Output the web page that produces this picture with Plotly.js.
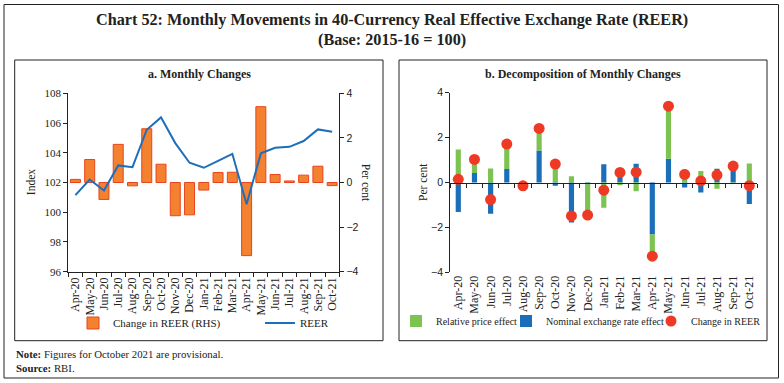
<!DOCTYPE html>
<html>
<head>
<meta charset="utf-8">
<script src="https://cdn.plot.ly/plotly-3.0.1.min.js"></script>
<style>html,body{margin:0;padding:0;background:#fff;}#chart{width:784px;height:383px;}</style>
</head>
<body>
<div id="chart"></div>
<script>
// ---- Data ----
const months = ['Apr-20','May-20','Jun-20','Jul-20','Aug-20','Sep-20','Oct-20','Nov-20','Dec-20','Jan-21','Feb-21','Mar-21','Apr-21','May-21','Jun-21','Jul-21','Aug-21','Sep-21','Oct-21'];
const reerIndex = [101.15,102.2,101.46,103.15,103.03,105.55,106.38,104.65,103.33,102.99,103.46,103.93,100.54,103.96,104.34,104.40,104.79,105.57,105.42];
const reerChange = [0.14,1.03,-0.76,1.71,-0.15,2.41,0.82,-1.49,-1.45,-0.34,0.45,0.46,-3.28,3.40,0.36,0.07,0.33,0.73,-0.14];
const relativePriceEffect = [1.47,0.61,0.62,1.11,-0.05,0.99,0.97,0.28,-1.40,-1.13,-0.12,-0.39,-0.96,2.34,0.58,0.51,-0.28,-0.06,0.85];
const nominalRateEffect = [-1.31,0.42,-1.39,0.60,-0.10,1.42,-0.15,-1.78,-0.05,0.81,0.57,0.84,-2.32,1.06,-0.22,-0.45,0.61,0.79,-0.96];
const leftTicks = [96,98,100,102,104,106,108];
const pctTicks = [-4,-2,0,2,4];

// ---- Layout helpers ----
const W = 784, H = 383;
const px = x => x / W;
const py = y => 1 - y / H;
const SERIF = 'Liberation Serif, Times New Roman, serif';
const SANS = 'Liberation Sans, Arial, sans-serif';
const INK = '#222';

const catRange = [-0.5, months.length - 0.5];

const traces = [
  {type:'bar', x:months, y:reerChange, xaxis:'x', yaxis:'y', name:'Change in REER (RHS)', width:0.7,
   marker:{color:'#F4812F', line:{color:'#E8451F', width:1}}, legend:'legend'},
  {type:'scatter', mode:'lines', x:months, y:reerIndex, xaxis:'x', yaxis:'y2', name:'REER',
   line:{color:'#1F6EB9', width:2}, legend:'legend5'},
  {type:'bar', x:months, y:nominalRateEffect, xaxis:'x2', yaxis:'y3', name:'Nominal exchange rate effect', width:0.32,
   marker:{color:'#1A6FB8'}, legend:'legend3'},
  {type:'bar', x:months, y:relativePriceEffect, xaxis:'x2', yaxis:'y3', name:'Relative price effect', width:0.32,
   marker:{color:'#7DC352'}, legend:'legend2'},
  {type:'scatter', mode:'markers', x:months, y:reerChange, xaxis:'x2', yaxis:'y3', name:'Change in REER',
   marker:{color:'#EE3A24', size:11}, legend:'legend4'},
  {type:'scatter', mode:'markers', x:months, y:months.map(()=>null), xaxis:'x3', yaxis:'y4',
   showlegend:false, hoverinfo:'skip'}
];

const legendBase = {orientation:'h', xanchor:'left', yanchor:'middle', bgcolor:'rgba(0,0,0,0)',
  font:{family:SERIF, size:11, color:INK}, itemwidth:30, borderwidth:0};
const smallLegendFont = {family:SERIF, size:10, color:INK};

const layout = {
  width:W, height:H, margin:{l:0,r:0,t:0,b:0},
  paper_bgcolor:'#fff', plot_bgcolor:'rgba(0,0,0,0)',
  barmode:'relative', showlegend:true,
  xaxis:{domain:[px(68.3), px(339.3)], anchor:'y', type:'category', categoryarray:months, range:catRange,
    showline:true, linecolor:INK, linewidth:1, ticks:'outside', ticklen:4, tickcolor:INK, tickson:'boundaries',
    tickangle:-90, tickfont:{family:SERIF, size:12, color:INK}, showgrid:false, zeroline:false, fixedrange:true},
  yaxis:{domain:[py(271.7), py(93.3)], anchor:'x', side:'right', range:[-4,4], tickvals:pctTicks,
    showline:true, linecolor:INK, ticks:'outside', ticklen:4, tickcolor:INK, showgrid:false, zeroline:false,
    tickfont:{family:SANS, size:10.5, color:INK}},
  yaxis2:{overlaying:'y', side:'left', anchor:'x', range:[96,108], tickvals:leftTicks,
    showline:true, linecolor:INK, ticks:'outside', ticklen:4, tickcolor:INK, showgrid:false, zeroline:false,
    tickfont:{family:SERIF, size:11, color:INK}},
  xaxis2:{domain:[px(450.2), px(757.4)], anchor:'y3', type:'category', categoryarray:months, range:catRange,
    showline:false, ticks:'', tickangle:-90, tickfont:{family:SERIF, size:12, color:INK}, showgrid:false, zeroline:false},
  yaxis3:{domain:[py(272.3), py(92.7)], anchor:'x2', side:'left', range:[-4,4], tickvals:pctTicks,
    showline:true, linecolor:INK, ticks:'outside', ticklen:4, tickcolor:INK, showgrid:false, zeroline:false,
    tickfont:{family:SANS, size:10.5, color:INK}},
  xaxis3:{overlaying:'x2', anchor:'free', position:py(182.5), type:'category', categoryarray:months, range:catRange,
    showline:true, linecolor:INK, linewidth:1, ticks:'outside', ticklen:4, tickcolor:INK, tickson:'boundaries',
    showticklabels:false, showgrid:false, zeroline:false},
  yaxis4:{overlaying:'y3', anchor:'x3', range:[-4,4], visible:false},
  legend:Object.assign({}, legendBase, {x:px(73), y:py(323)}),
  legend5:Object.assign({}, legendBase, {x:px(260), y:py(323)}),
  legend2:Object.assign({}, legendBase, {x:px(396), y:py(321), font:smallLegendFont}),
  legend3:Object.assign({}, legendBase, {x:px(506), y:py(321), font:smallLegendFont}),
  legend4:Object.assign({}, legendBase, {x:px(651), y:py(321), font:smallLegendFont}),
  shapes:[
    {type:'rect', xref:'paper', yref:'paper', x0:px(4), x1:px(778.5), y0:py(378), y1:py(4.5), line:{color:INK, width:1}},
    {type:'rect', xref:'paper', yref:'paper', x0:px(14.7), x1:px(383), y0:py(340.7), y1:py(60), line:{color:INK, width:1}},
    {type:'rect', xref:'paper', yref:'paper', x0:px(399), x1:px(767), y0:py(340.7), y1:py(60), line:{color:INK, width:1}}
  ],
  annotations:[
    {xref:'paper', yref:'paper', x:px(391.5), y:py(20), xanchor:'center', yanchor:'middle', showarrow:false,
     text:'<b>Chart 52: Monthly Movements in 40-Currency Real Effective Exchange Rate (REER)</b>', font:{family:SERIF, size:16.2, color:INK}},
    {xref:'paper', yref:'paper', x:px(391.5), y:py(40), xanchor:'center', yanchor:'middle', showarrow:false,
     text:'<b>(Base: 2015-16 = 100)</b>', font:{family:SERIF, size:16.2, color:INK}},
    {xref:'paper', yref:'paper', x:px(199), y:py(74), xanchor:'center', yanchor:'middle', showarrow:false,
     text:'<b>a. Monthly Changes</b>', font:{family:SERIF, size:12, color:INK}},
    {xref:'paper', yref:'paper', x:px(583), y:py(74), xanchor:'center', yanchor:'middle', showarrow:false,
     text:'<b>b. Decomposition of Monthly Changes</b>', font:{family:SERIF, size:12, color:INK}},
    {xref:'paper', yref:'paper', x:px(30.7), y:py(182.5), xanchor:'center', yanchor:'middle', showarrow:false, textangle:-90,
     text:'Index', font:{family:SERIF, size:11.5, color:INK}},
    {xref:'paper', yref:'paper', x:px(366.7), y:py(182.5), xanchor:'center', yanchor:'middle', showarrow:false, textangle:90,
     text:'Per cent', font:{family:SERIF, size:11.5, color:INK}},
    {xref:'paper', yref:'paper', x:px(422.5), y:py(182.5), xanchor:'center', yanchor:'middle', showarrow:false, textangle:-90,
     text:'Per cent', font:{family:SERIF, size:11.5, color:INK}},
    {xref:'paper', yref:'paper', x:px(14), y:py(354), xanchor:'left', yanchor:'middle', showarrow:false,
     text:'<b>Note:</b> Figures for October 2021 are provisional.', font:{family:SERIF, size:10.8, color:INK}},
    {xref:'paper', yref:'paper', x:px(14), y:py(368), xanchor:'left', yanchor:'middle', showarrow:false,
     text:'<b>Source:</b> RBI.', font:{family:SERIF, size:10.8, color:INK}}
  ]
};

Plotly.newPlot('chart', traces, layout, {displayModeBar:false, staticPlot:true});
</script>
</body>
</html>
